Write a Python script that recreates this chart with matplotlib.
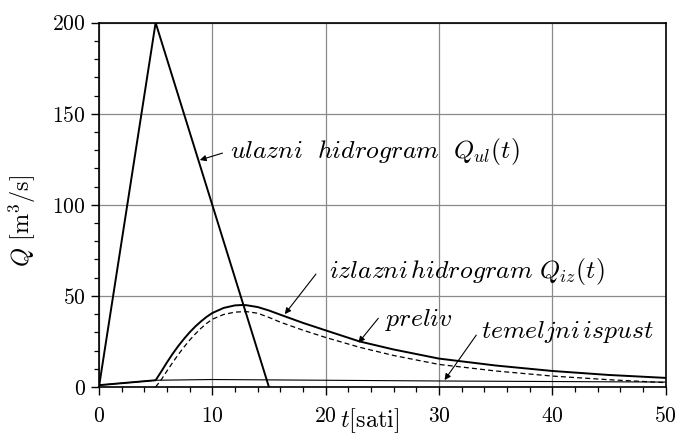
import matplotlib
matplotlib.use("Agg")
import matplotlib.pyplot as plt
from matplotlib.ticker import MultipleLocator

plt.rcParams['mathtext.fontset'] = 'cm'
plt.rcParams['font.family'] = 'serif'
plt.rcParams['font.serif'] = ['cmr10', 'DejaVu Serif']
plt.rcParams['axes.formatter.use_mathtext'] = True

# ulazni hidrogram (inflow triangle)
t_in = [0, 5, 15]
q_in = [0, 200, 0]

# izlazni hidrogram (total outflow)
t_out = [0, 5, 5.5, 6, 6.5, 7, 7.5, 8, 8.5, 9, 9.5, 10, 11, 12, 12.6, 13, 14, 15,
         16, 18, 20, 23, 26, 30, 35, 40, 45, 50]
q_out = [1.0, 3.7, 8.5, 13.5, 18.2, 22.5, 26.4, 30.0, 33.2, 36.0, 38.5, 40.6, 43.4,
         44.8, 45.0, 44.9, 43.9, 42.0, 39.7, 35.2, 31.1, 25.0, 20.6, 15.6, 11.8,
         8.8, 6.6, 5.0]

# preliv (spillway)
t_pre = [5, 5.5, 6, 6.5, 7, 7.5, 8, 8.5, 9, 9.5, 10, 11, 12, 13, 14, 15, 16, 18,
         20, 23, 26, 30, 35, 40, 45, 50]
q_pre = [0, 4.0, 8.8, 13.4, 17.8, 21.9, 25.7, 29.1, 32.2, 34.9, 37.2, 39.8, 41.1,
         41.4, 40.5, 38.2, 35.6, 31.2, 27.2, 21.8, 17.3, 12.4, 8.8, 6.0, 4.0, 2.4]

# temeljni ispust (bottom outlet)
t_isp = [0, 5, 10, 15, 20, 30, 40, 50]
q_isp = [1.0, 3.7, 4.1, 3.9, 3.7, 3.3, 3.0, 2.7]

fig = plt.figure(figsize=(6.76, 4.36), dpi=100)
ax = fig.add_axes([0.1464, 0.1124, 0.8381, 0.8356])

ax.plot(t_in, q_in, color='black', lw=1.4)
ax.plot(t_out, q_out, color='black', lw=1.4)
ax.plot(t_pre, q_pre, color='black', lw=0.9, dashes=(4, 2.5))
ax.plot(t_isp, q_isp, color='black', lw=0.8)

ax.set_xlim(0, 50)
ax.set_ylim(0, 200)
ax.xaxis.set_major_locator(MultipleLocator(10))
ax.xaxis.set_minor_locator(MultipleLocator(2))
ax.yaxis.set_major_locator(MultipleLocator(50))
ax.yaxis.set_minor_locator(MultipleLocator(10))
ax.tick_params(which='major', direction='out', length=6, width=1, labelsize=15.5)
ax.tick_params(axis='x', which='major', pad=8)
ax.tick_params(which='minor', direction='out', length=3.5, width=0.9)
ax.grid(True, which='major', color='#8a8a8a', lw=0.9)
for s in ax.spines.values():
    s.set_linewidth(1.2)

ax.set_xlabel(r'$t[\mathrm{sati}]$', fontsize=17.5)
ax.xaxis.set_label_coords(0.478, -0.054)
ax.set_ylabel(r'$Q\ [\mathrm{m}^3/\mathrm{s}]$', fontsize=17.5)
ax.yaxis.set_label_coords(-0.107, 0.457)

arrow = dict(arrowstyle='-|>', color='black', lw=0.8, mutation_scale=9,
             shrinkA=0, shrinkB=0)
fs = 18.5
ax.text(11.55, 125.7, r'$ulazni\ \ hidrogram\ \ Q_{ul}(t)$', fontsize=fs, va='baseline')
ax.annotate('', xy=(8.9, 124.6), xytext=(10.9, 128.4), arrowprops=arrow)
ax.text(20.3, 59.8, r'$izlazni\,hidrogram\ Q_{iz}(t)$', fontsize=fs, va='baseline')
ax.annotate('', xy=(16.4, 40), xytext=(19.15, 62), arrowprops=arrow)
ax.text(25.2, 33.5, r'$preliv$', fontsize=fs, va='baseline')
ax.annotate('', xy=(22.9, 24.3), xytext=(24.65, 37.7), arrowprops=arrow)
ax.text(33.7, 26.9, r'$temeljni\,ispust$', fontsize=fs, va='baseline')
ax.annotate('', xy=(30.5, 3.8), xytext=(33.3, 28.5), arrowprops=arrow)

fig.savefig('out.png', dpi=100)
